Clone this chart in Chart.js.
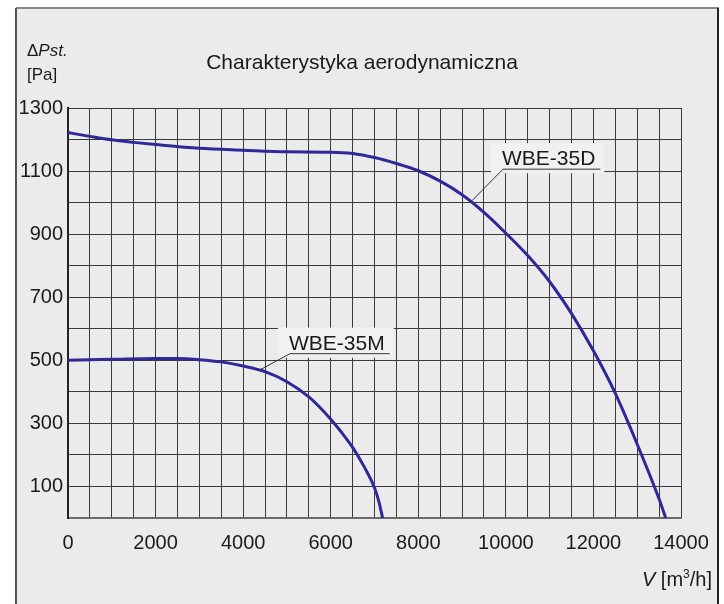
<!DOCTYPE html>
<html>
<head>
<meta charset="utf-8">
<script src="https://cdn.jsdelivr.net/npm/chart.js@4.4.1/dist/chart.umd.min.js"></script>
<style>
    html, body { margin: 0; padding: 0; background: #ffffff; }
    #wrap { width: 724px; height: 604px; position: relative; }
</style>
</head>
<body>
<div id="wrap"><canvas id="fanChart"></canvas></div>
<script>
// curve readings (flow in m3/h, static pressure in Pa)
const wbe35dFlow = [0, 500, 1000, 1500, 2000, 3000, 4000, 5000, 6000, 6500, 7000, 7500, 8000, 8500, 9000, 9500, 10000, 10500, 11000, 11500, 12000, 12500, 13000, 13500, 13650];
const wbe35dPressure = [1222, 1210, 1199, 1191, 1184, 1172, 1166, 1161, 1160, 1156, 1143, 1124, 1101, 1068, 1025, 969, 903, 832, 749, 648, 530, 395, 234, 60, 0];

const wbe35mFlow = [0, 1000, 2000, 2500, 3000, 3500, 4000, 4500, 5000, 5500, 5750, 6000, 6250, 6500, 6750, 7000, 7100, 7185];
const wbe35mPressure = [500, 503, 506, 506, 502, 495, 482, 464, 432, 384, 351, 313, 271, 224, 166, 96, 52, 0];

const xTickLabels = [0, 2000, 4000, 6000, 8000, 10000, 12000, 14000];
const yTickLabels = [100, 300, 500, 700, 900, 1100, 1300];

const seriesNames = ['WBE-35D', 'WBE-35M'];

// callout labels: text starts at (flow, pressure), leader goes to a point on the curve
const callouts = [
    { text: 'WBE-35D', x: 9934, y: 1106, toX: 9226, toY: 1006 },
    { text: 'WBE-35M', x: 5070, y: 521, toX: 4362, toY: 468 }
];

const FONT = '"Liberation Sans", Arial, sans-serif';
const curveColor = '#2f2898';
const gridColor = '#3a3a3a';

function toPoints(xs, ys) {
    return xs.map((x, i) => ({ x: x, y: ys[i] }));
}

const framePlugin = {
    id: 'frame',
    beforeDraw(chart) {
        const ctx = chart.ctx;
        ctx.save();
        ctx.fillStyle = '#ffffff';
        ctx.fillRect(0, 0, chart.width, chart.height);
        ctx.fillStyle = '#ebebeb';
        ctx.fillRect(16, 8, 703, chart.height - 8);
        ctx.lineWidth = 2;
        ctx.strokeStyle = '#8a8a8a';
        ctx.beginPath(); ctx.moveTo(16, 8); ctx.lineTo(719, 8); ctx.stroke();
        ctx.strokeStyle = '#555555';
        ctx.beginPath(); ctx.moveTo(16, 8); ctx.lineTo(16, chart.height); ctx.stroke();
        ctx.strokeStyle = '#222222';
        ctx.beginPath(); ctx.moveTo(718, 8); ctx.lineTo(718, chart.height); ctx.stroke();
        ctx.restore();
    }
};

const textPlugin = {
    id: 'texts',
    afterDraw(chart) {
        const ctx = chart.ctx;
        const xs = chart.scales.x;
        const ys = chart.scales.y;
        ctx.save();
        ctx.fillStyle = '#1a1a1a';
        ctx.textBaseline = 'alphabetic';

        // title
        ctx.font = '21px ' + FONT;
        ctx.textAlign = 'center';
        ctx.fillText('Charakterystyka aerodynamiczna', chart.width / 2, 69);

        // y axis title
        ctx.textAlign = 'left';
        ctx.font = '17px ' + FONT;
        ctx.fillText('\u0394', 27, 56);
        const dw = ctx.measureText('\u0394').width;
        ctx.font = 'italic 17px ' + FONT;
        ctx.fillText('Pst.', 27 + dw, 56);
        ctx.font = '17px ' + FONT;
        ctx.fillText('[Pa]', 27, 80);

        // x axis title, right aligned
        const parts = [
            { t: 'V', f: 'italic 20px ' + FONT, dy: 0 },
            { t: ' [m', f: '20px ' + FONT, dy: 0 },
            { t: '3', f: '12px ' + FONT, dy: -8 },
            { t: '/h]', f: '20px ' + FONT, dy: 0 }
        ];
        let total = 0;
        parts.forEach(p => { ctx.font = p.f; p.w = ctx.measureText(p.t).width; total += p.w; });
        let cx = 712 - total;
        parts.forEach(p => { ctx.font = p.f; ctx.fillText(p.t, cx, 586 + p.dy); cx += p.w; });

        // callouts
        ctx.font = '21px ' + FONT;
        callouts.forEach(c => {
            const px = xs.getPixelForValue(c.x);
            const py = ys.getPixelForValue(c.y);
            const tx = xs.getPixelForValue(c.toX);
            const ty = ys.getPixelForValue(c.toY);
            const w = ctx.measureText(c.text).width;
            const base = py - 4;
            ctx.fillStyle = '#f1f1f1';
            ctx.fillRect(px - 12, base - 22, w + 20, 30);
            ctx.strokeStyle = '#333333';
            ctx.lineWidth = 1;
            ctx.beginPath();
            ctx.moveTo(tx, ty);
            ctx.lineTo(px, py);
            ctx.lineTo(px + w + 4, py);
            ctx.stroke();
            ctx.fillStyle = '#1a1a1a';
            ctx.fillText(c.text, px - 1, base);
        });
        ctx.restore();
    }
};

function createFanChart() {
    const ctx = document.getElementById('fanChart').getContext('2d');
    new Chart(ctx, {
        type: 'line',
        data: {
            datasets: [{
                label: seriesNames[0],
                data: toPoints(wbe35dFlow, wbe35dPressure),
                borderColor: curveColor,
                borderWidth: 3,
                pointRadius: 0,
                cubicInterpolationMode: 'monotone',
                fill: false
            }, {
                label: seriesNames[1],
                data: toPoints(wbe35mFlow, wbe35mPressure),
                borderColor: curveColor,
                borderWidth: 3,
                pointRadius: 0,
                cubicInterpolationMode: 'monotone',
                fill: false
            }]
        },
        options: {
            responsive: true,
            maintainAspectRatio: false,
            animation: false,
            layout: { padding: { top: 108, right: 43, left: 0, bottom: 0 } },
            plugins: {
                legend: { display: false },
                tooltip: { enabled: false }
            },
            scales: {
                x: {
                    type: 'linear',
                    min: 0,
                    max: 14000,
                    afterFit: function(scale) { scale.height = 86; },
                    grid: { color: gridColor, lineWidth: 1, drawTicks: false },
                    border: { color: '#6a6a6a', width: 2 },
                    ticks: {
                        stepSize: 500,
                        autoSkip: false,
                        maxRotation: 0,
                        padding: 13,
                        color: '#1a1a1a',
                        font: { family: FONT, size: 20 },
                        callback: function(value) {
                            return xTickLabels.includes(value) ? String(value) : '';
                        }
                    }
                },
                y: {
                    min: 0,
                    max: 1300,
                    afterFit: function(scale) { scale.width = 68; },
                    grid: { color: gridColor, lineWidth: 1, drawTicks: false },
                    border: { color: '#222222', width: 2 },
                    ticks: {
                        stepSize: 100,
                        autoSkip: false,
                        padding: 5,
                        color: '#1a1a1a',
                        font: { family: FONT, size: 20 },
                        callback: function(value) {
                            return yTickLabels.includes(value) ? String(value) : '';
                        }
                    }
                }
            }
        },
        plugins: [framePlugin, textPlugin]
    });
}

document.addEventListener('DOMContentLoaded', createFanChart);
</script>
</body>
</html>
